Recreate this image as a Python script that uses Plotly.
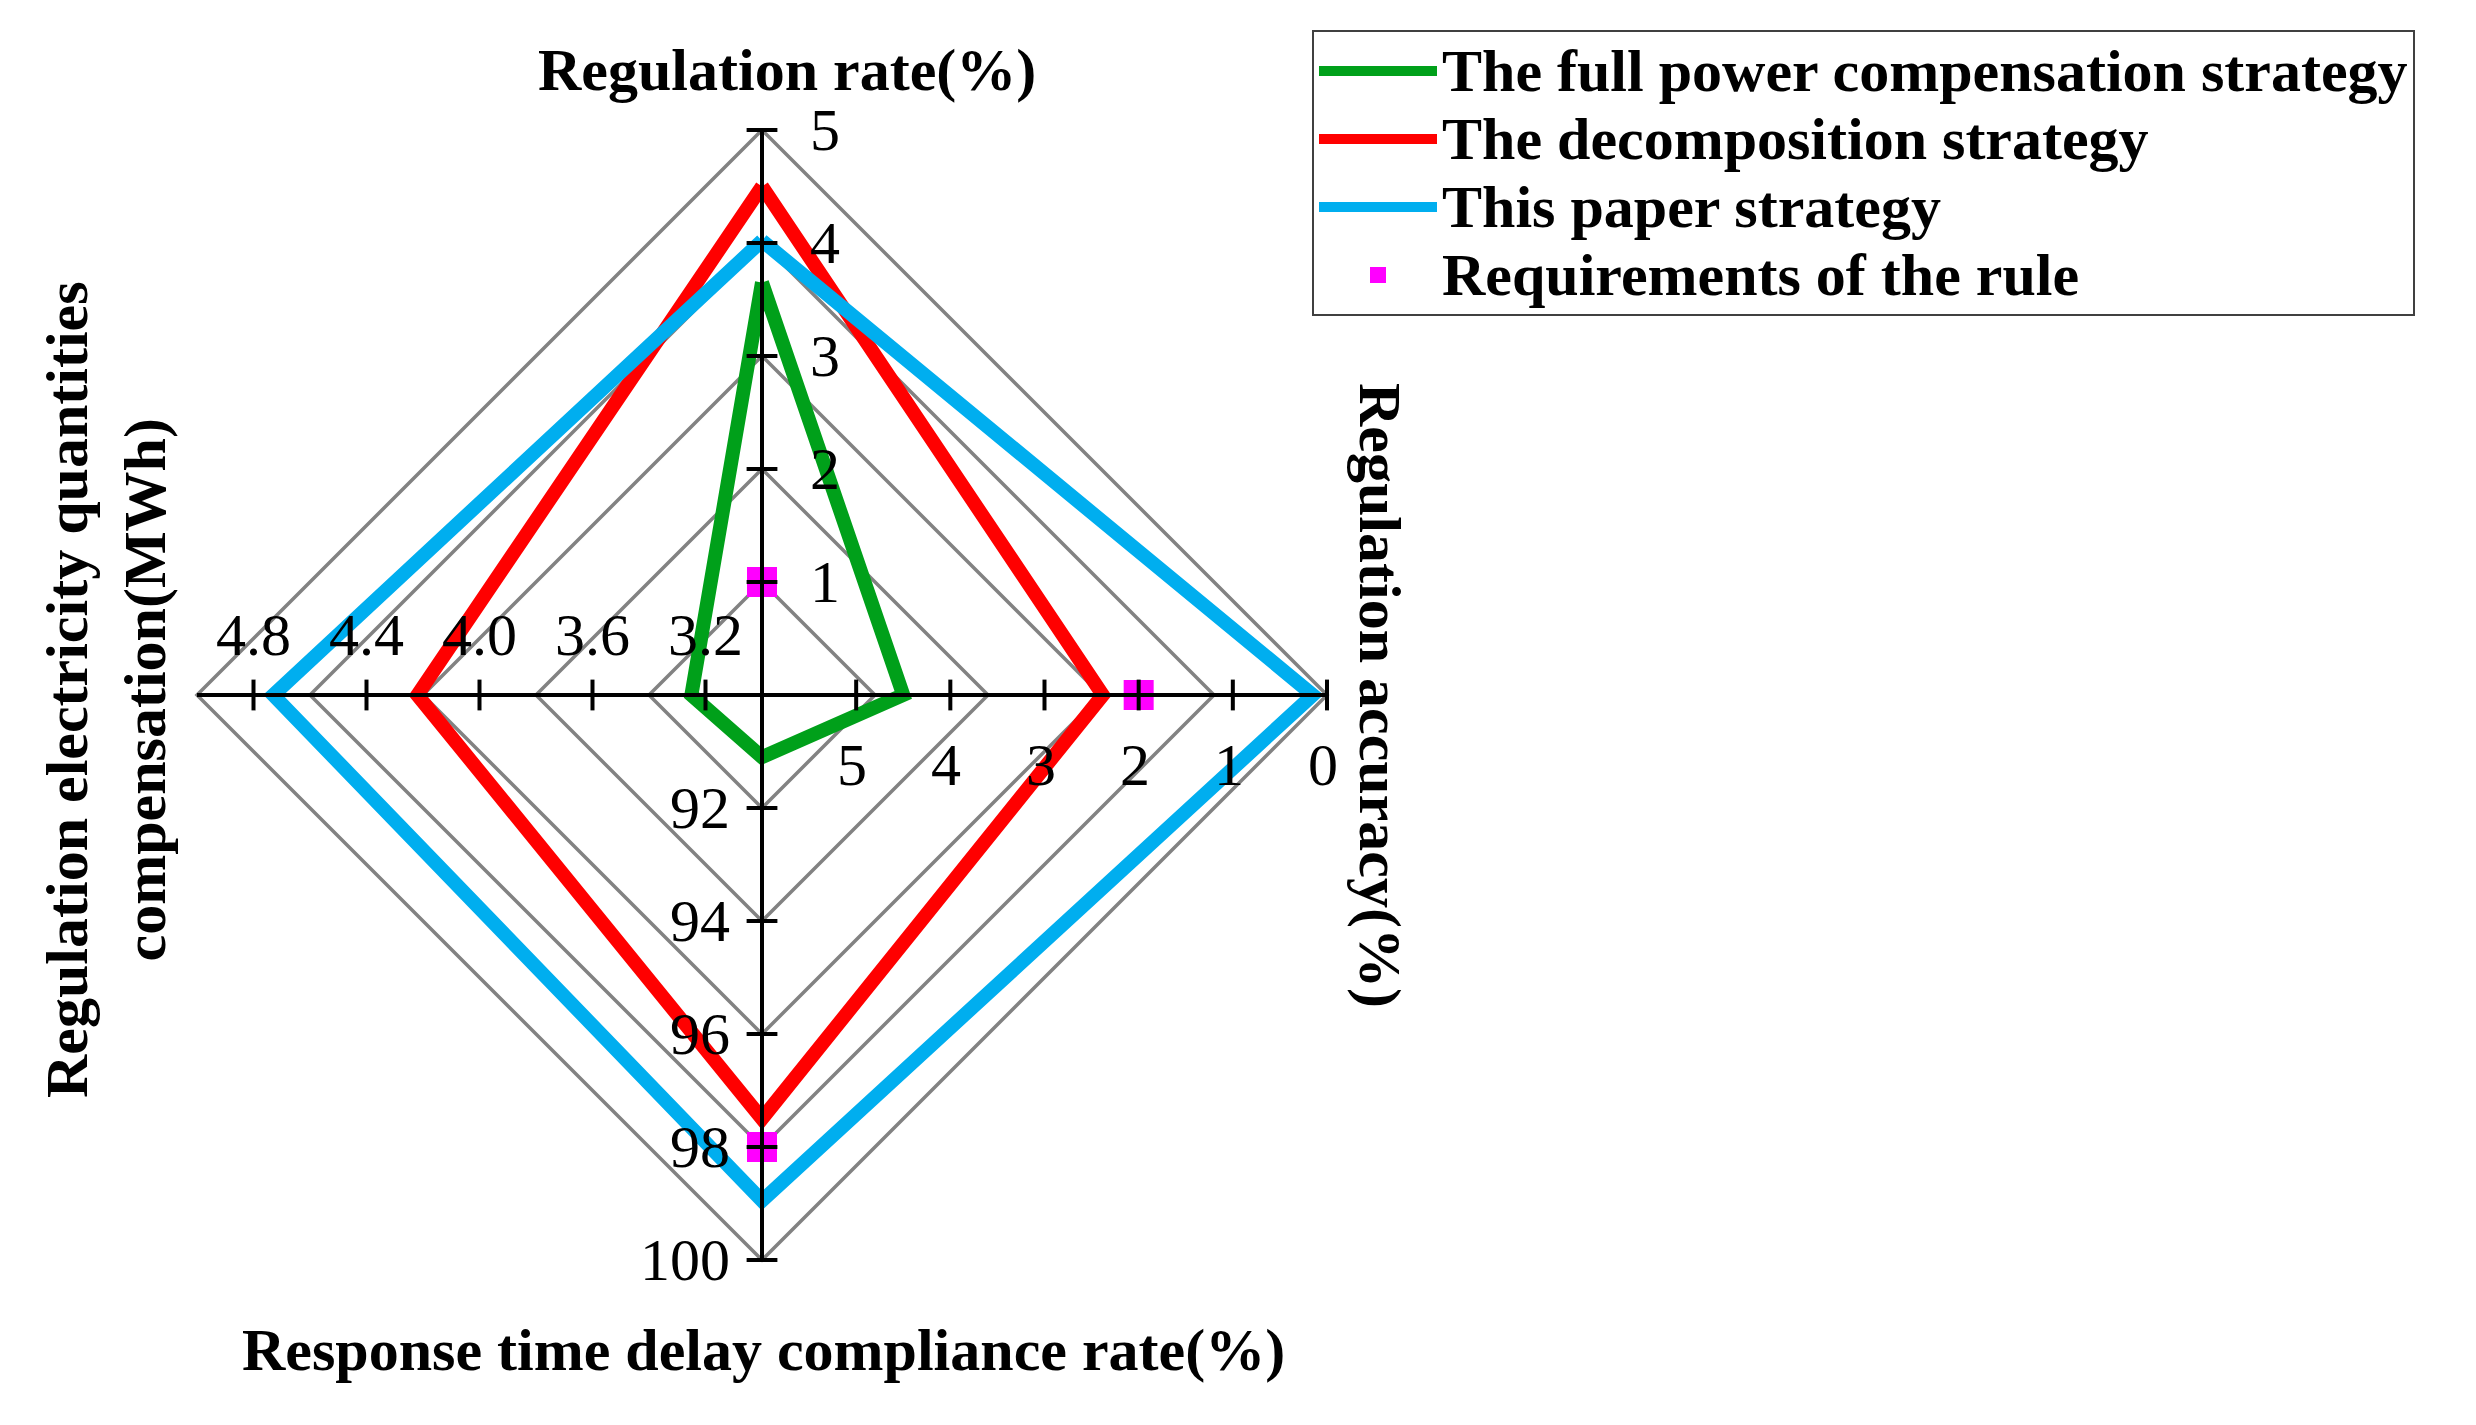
import plotly.graph_objects as go

# ---------------- data ----------------
series_names = ["The full power compensation strategy",
                "The decomposition strategy",
                "This paper strategy"]
series_colors = ["#00A01A", "#FF0000", "#00AEEF"]

# values on the four axes (top, right, bottom, left)
rate_vals = [3.65, 4.50, 4.02]          # Regulation rate (%)
acc_vals = [4.50, 2.38, 0.15]           # Regulation accuracy (%)
resp_vals = [91.1, 97.5, 98.95]         # Response time delay compliance rate (%)
qty_vals = [3.25, 4.22, 4.73]           # Regulation electricity quantities compensation (MWh)

req_name = "Requirements of the rule"
req_rate = 1.0
req_acc = 2.0
req_resp = 98.0

# axis scales: (value at centre, value at outer edge)
rate_scale = (0.0, 5.0)
acc_scale = (6.0, 0.0)
resp_scale = (90.0, 100.0)
qty_scale = (3.0, 5.0)

rate_ticks = [1, 2, 3, 4, 5]
acc_ticks = [0, 1, 2, 3, 4, 5]
resp_ticks = [92, 94, 96, 98, 100]
qty_ticks = [3.2, 3.6, 4.0, 4.4, 4.8]
qty_tick_text = ["3.2", "3.6", "4.0", "4.4", "4.8"]

grid_levels = [0.2, 0.4, 0.6, 0.8, 1.0]

title_top = "Regulation rate(%)"
title_right = "Regulation accuracy(%)"
title_bottom = "Response time delay compliance rate(%)"
title_left = "Regulation electricity quantities<br>compensation(MWh)"

# ---------------- helpers ----------------
def frac(v, scale):
    c, o = scale
    return (v - c) / (o - c)

def legend_label(s):
    return '<span style="font-size:60px">' + s + '</span>'

W, H = 2476, 1425
CX, CY, R = 762, 695, 565
FONT = "Times New Roman, Liberation Serif, serif"

fig = go.Figure()

# grid diamonds
for g in grid_levels:
    fig.add_trace(go.Scatter(
        x=[0, g, 0, -g, 0], y=[g, 0, -g, 0, g], mode="lines",
        line=dict(color="#828282", width=3.5), showlegend=False, hoverinfo="skip"))

# series
for i, name in enumerate(series_names):
    t = frac(rate_vals[i], rate_scale)
    r = frac(acc_vals[i], acc_scale)
    b = frac(resp_vals[i], resp_scale)
    l = frac(qty_vals[i], qty_scale)
    fig.add_trace(go.Scatter(
        x=[0, r, 0, -l, 0], y=[t, 0, -b, 0, t], mode="lines", name=legend_label(name),
        line=dict(color=series_colors[i], width=14)))

# requirements
fig.add_trace(go.Scatter(
    x=[0, frac(req_acc, acc_scale), 0],
    y=[frac(req_rate, rate_scale), 0, -frac(req_resp, resp_scale)],
    mode="markers", name=legend_label(req_name),
    marker=dict(symbol="square", size=30, color="#FF00FF")))

# axis lines
fig.add_trace(go.Scatter(x=[-1, 1], y=[0, 0], mode="lines",
                         line=dict(color="black", width=4), showlegend=False, hoverinfo="skip"))
fig.add_trace(go.Scatter(x=[0, 0], y=[-1, 1], mode="lines",
                         line=dict(color="black", width=4), showlegend=False, hoverinfo="skip"))

# tick marks
vt_y = [frac(v, rate_scale) for v in rate_ticks] + [-frac(v, resp_scale) for v in resp_ticks]
fig.add_trace(go.Scatter(x=[0] * len(vt_y), y=vt_y, mode="markers", showlegend=False, hoverinfo="skip",
                         marker=dict(symbol="line-ew", size=22, line=dict(color="black", width=4))))
ht_x = [frac(v, acc_scale) for v in acc_ticks] + [-frac(v, qty_scale) for v in qty_ticks]
fig.add_trace(go.Scatter(x=ht_x, y=[0] * len(ht_x), mode="markers", showlegend=False, hoverinfo="skip",
                         marker=dict(symbol="line-ns", size=22, line=dict(color="black", width=4))))

ann = []
tick_font = dict(family=FONT, size=60, color="black")
for v in rate_ticks:
    ann.append(dict(x=0, y=frac(v, rate_scale), text=str(v), showarrow=False,
                    xanchor="center", yanchor="middle", xshift=63, font=tick_font))
for v in acc_ticks:
    ann.append(dict(x=frac(v, acc_scale), y=0, text=str(v), showarrow=False,
                    xanchor="center", yanchor="middle", xshift=-4, yshift=-70, font=tick_font))
for v in resp_ticks:
    ann.append(dict(x=0, y=-frac(v, resp_scale), text=str(v), showarrow=False,
                    xanchor="right", yanchor="middle", xshift=-30, font=tick_font))
for v, tt in zip(qty_ticks, qty_tick_text):
    ann.append(dict(x=-frac(v, qty_scale), y=0, text=tt, showarrow=False,
                    xanchor="center", yanchor="middle", yshift=60, font=tick_font))

title_font = dict(family=FONT, size=60, color="black", weight="bold")
ann.append(dict(xref="paper", yref="paper", x=787 / W, y=1 - 70 / H, text=title_top,
                showarrow=False, xanchor="center", yanchor="middle", font=title_font))
ann.append(dict(xref="paper", yref="paper", x=763 / W, y=1 - 1350 / H, text=title_bottom,
                showarrow=False, xanchor="center", yanchor="middle", font=title_font))
ann.append(dict(xref="paper", yref="paper", x=1380 / W, y=1 - 695 / H, text=title_right,
                showarrow=False, xanchor="center", yanchor="middle", textangle=90, font=title_font))
ann.append(dict(xref="paper", yref="paper", x=106 / W, y=1 - 690 / H, text=title_left,
                showarrow=False, xanchor="center", yanchor="middle", textangle=-90, font=title_font))

fig.update_layout(
    width=W, height=H, margin=dict(l=0, r=0, t=0, b=0),
    paper_bgcolor="white", plot_bgcolor="white",
    xaxis=dict(range=[-CX / R, (W - CX) / R], visible=False, fixedrange=True),
    yaxis=dict(range=[(CY - H) / R, CY / R], visible=False, fixedrange=True),
    annotations=ann,
    showlegend=True,
    legend=dict(x=1312 / W, y=1 - 30 / H, xanchor="left", yanchor="top",
                bordercolor="#404040", borderwidth=2, bgcolor="white",
                font=dict(family=FONT, size=50, color="black", weight="bold"),
                itemwidth=118, tracegroupgap=0),
)

fig.write_html("out.html", config={"displayModeBar": False},
               post_script="document.body.style.margin='0';document.body.style.padding='0';")
